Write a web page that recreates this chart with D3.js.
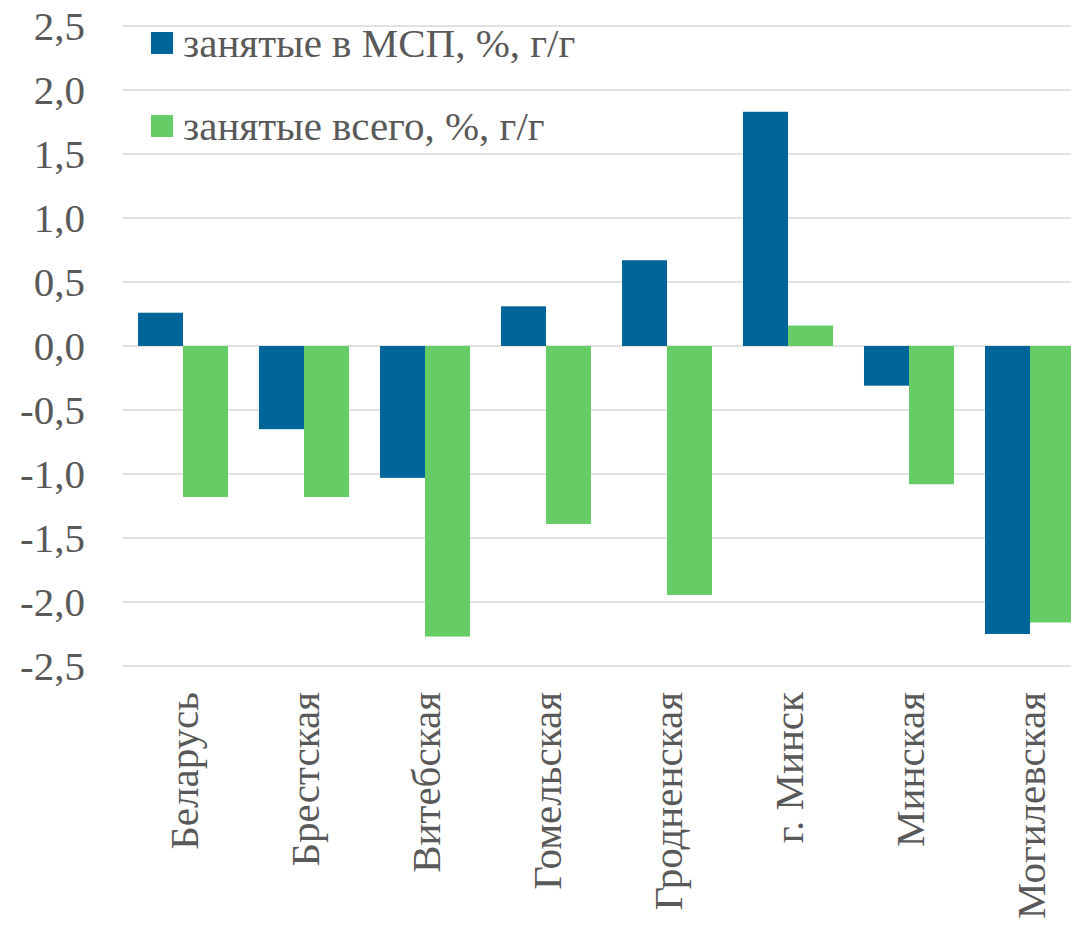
<!DOCTYPE html>
<html><head><meta charset="utf-8">
<script src="https://cdn.jsdelivr.net/npm/d3@7"></script>
<style>
html,body{margin:0;padding:0;background:#fff;overflow:hidden}
svg text{font-family:"Liberation Serif","Times New Roman",Tinos,serif;}
</style>
</head><body>
<svg id="c" width="1071" height="930" font-family="Liberation Serif"></svg>
<script>
const categories = ["Беларусь","Брестская","Витебская","Гомельская","Гродненская","г. Минск","Минская","Могилевская"];
const seriesNames = ["занятые в МСП, %, г/г","занятые всего, %, г/г"];
const smeValues = [0.26,-0.65,-1.03,0.31,0.67,1.83,-0.31,-2.25];
const totalValues = [-1.18,-1.18,-2.27,-1.39,-1.945,0.16,-1.08,-2.16];
const tickValues = [-2.5,-2,-1.5,-1,-0.5,0,0.5,1,1.5,2,2.5];
const colors = ["#00669A","#66CC66"];

const svg = d3.select("#c");
const textColor = "#595959";
const fs = 41;

const y = d3.scaleLinear().domain([-2.5,2.5]).range([666,26]);
const x = d3.scaleBand().domain(categories).range([122.5,1090.5]).paddingInner(0.256).paddingOuter(0.128);
const x1 = d3.scaleBand().domain([0,1]).range([0,x.bandwidth()]);

svg.append("g").selectAll("line").data(tickValues).join("line")
  .attr("x1",123).attr("x2",1071)
  .attr("y1",d=>y(d)).attr("y2",d=>y(d))
  .attr("stroke","#D9D9D9").attr("stroke-width",1.5);

const fmt = d => d3.format(".1f")(d).replace(".",",").replace("−","-");
svg.append("g").selectAll("text").data(tickValues).join("text")
  .attr("x",85).attr("y",d=>y(d)).attr("dy","0.35em")
  .attr("text-anchor","end").attr("font-size",fs)
  .attr("fill",textColor).text(fmt);

const series = [smeValues,totalValues];
series.forEach((vals,si)=>{
  svg.append("g").selectAll("rect").data(vals).join("rect")
    .attr("x",(d,i)=>x(categories[i])+x1(si))
    .attr("width",x1.bandwidth())
    .attr("y",d=>y(Math.max(0,d)))
    .attr("height",d=>Math.abs(y(d)-y(0)))
    .attr("fill",colors[si]);
});

svg.append("g").selectAll("text").data(categories).join("text")
  .attr("transform",d=>`translate(${x(d)+x.bandwidth()/2+15},692) rotate(-90)`)
  .attr("text-anchor","end").attr("font-size",fs)
  .attr("fill",textColor).text(d=>d);

const lg = svg.append("g");
seriesNames.forEach((n,i)=>{
  const yy = 32 + i*83;
  lg.append("rect").attr("x",151).attr("y",yy).attr("width",22).attr("height",22).attr("fill",colors[i]);
  lg.append("text").attr("x",183).attr("y",yy+25).attr("font-size",fs)
    .attr("fill",textColor).text(n);
});
</script>
</body></html>
